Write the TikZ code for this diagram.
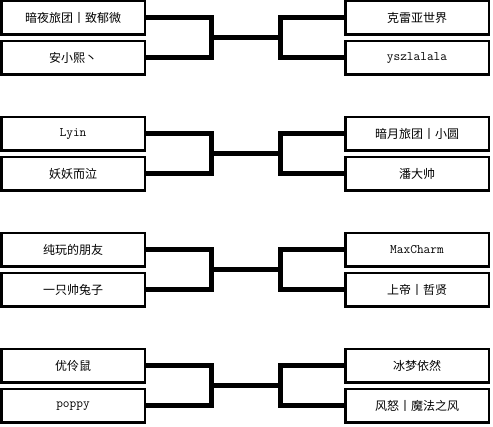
\documentclass[tikz,border=0pt]{standalone}
\usepackage{fontspec}
\setmainfont{Noto Sans CJK SC}
\usetikzlibrary{positioning, calc}

\begin{document}
\begin{tikzpicture}[
    x=1pt, y=-1pt,
    node distance=4pt and 198pt,
    box/.style={rectangle, draw, line width=2.5pt, minimum width=143.5pt,
                minimum height=33.5pt, inner sep=0pt, align=center,
                font=\fontsize{12}{14}\selectfont},
    latin/.style={font=\ttfamily\fontsize{13}{15}\selectfont},
    bracket/.style={line width=5pt}
]
\useasboundingbox (0,0) rectangle (493,427);

\node[box] (l1) at (73,18) {暗夜旅团丨致郁微};
\node[box, below=of l1] (l2) {安小熙丶};
\node[box, latin, below=40pt of l2] (l3) {Lyin};
\node[box, below=of l3] (l4) {妖妖而泣};
\node[box, below=40pt of l4] (l5) {纯玩的朋友};
\node[box, below=of l5] (l6) {一只帅兔子};
\node[box, below=40pt of l6] (l7) {优伶鼠};
\node[box, latin, below=of l7] (l8) {poppy};

\node[box, right=of l1] (r1) {克雷亚世界};
\node[box, latin, right=of l2] (r2) {yszlalala};
\node[box, right=of l3] (r3) {暗月旅团丨小圆};
\node[box, right=of l4] (r4) {潘大帅};
\node[box, latin, right=of l5] (r5) {MaxCharm};
\node[box, right=of l6] (r6) {上帝丨哲贤};
\node[box, right=of l7] (r7) {冰梦依然};
\node[box, right=of l8] (r8) {风怒丨魔法之风};

\coordinate (jl1) at ($(l1.east)!.5!(l2.east)+(65,0)$);
\coordinate (jl2) at ($(l3.east)!.5!(l4.east)+(65,0)$);
\coordinate (jl3) at ($(l5.east)!.5!(l6.east)+(65,0)$);
\coordinate (jl4) at ($(l7.east)!.5!(l8.east)+(65,0)$);
\coordinate (jr1) at ($(r1.west)!.5!(r2.west)-(64,0)$);
\coordinate (jr2) at ($(r3.west)!.5!(r4.west)-(64,0)$);
\coordinate (jr3) at ($(r5.west)!.5!(r6.west)-(64,0)$);
\coordinate (jr4) at ($(r7.west)!.5!(r8.west)-(64,0)$);

\draw[bracket] (l1.east) -| (jl1) |- (l2.east);
\draw[bracket] (l3.east) -| (jl2) |- (l4.east);
\draw[bracket] (l5.east) -| (jl3) |- (l6.east);
\draw[bracket] (l7.east) -| (jl4) |- (l8.east);
\draw[bracket] (r1.west) -| (jr1) |- (r2.west);
\draw[bracket] (r3.west) -| (jr2) |- (r4.west);
\draw[bracket] (r5.west) -| (jr3) |- (r6.west);
\draw[bracket] (r7.west) -| (jr4) |- (r8.west);
\draw[bracket] (jl1) -- (jr1);
\draw[bracket] (jl2) -- (jr2);
\draw[bracket] (jl3) -- (jr3);
\draw[bracket] (jl4) -- (jr4);
\end{tikzpicture}
\end{document}
